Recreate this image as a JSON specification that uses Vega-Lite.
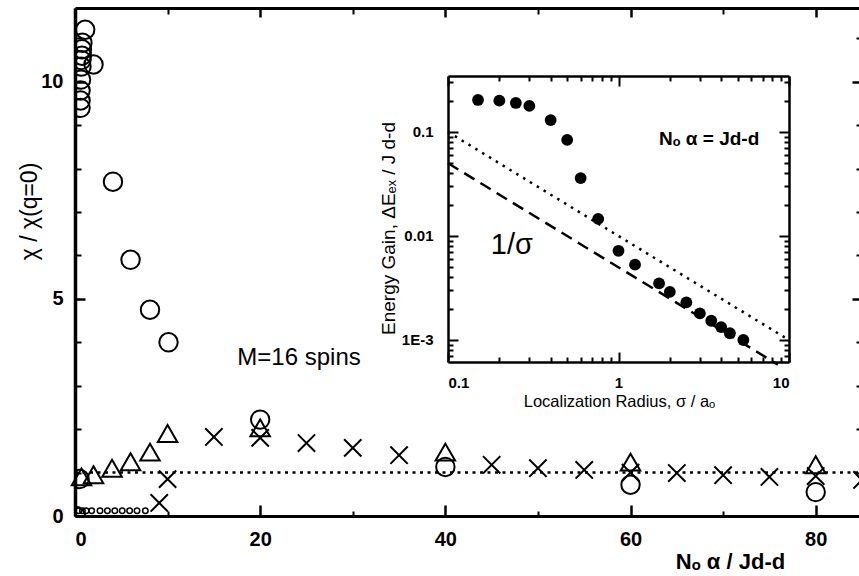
{
  "$schema": "https://vega.github.io/schema/vega-lite/v6.json",
  "width": 787,
  "height": 508,
  "autosize": {"type": "none"},
  "padding": {"left": 75, "top": 8, "right": 0, "bottom": 60},
  "background": "white",
  "config": {
    "view": {"stroke": null},
    "axis": {"domainColor": "black", "tickColor": "black", "labelColor": "black", "titleColor": "black", "labelFont": "Liberation Sans", "titleFont": "Liberation Sans", "grid": false},
    "text": {"font": "Liberation Sans", "color": "black"}
  },
  "datasets": {
    "circles": [
      {"x": 0.1, "y": 0.0}, {"x": 0.5, "y": 0.85},
      {"x": 0.6, "y": 9.4}, {"x": 0.6, "y": 9.57}, {"x": 0.6, "y": 9.8}, {"x": 0.65, "y": 10.05},
      {"x": 0.7, "y": 10.35}, {"x": 0.7, "y": 10.5}, {"x": 0.75, "y": 10.6}, {"x": 0.75, "y": 10.75},
      {"x": 0.8, "y": 10.9}, {"x": 1.1, "y": 11.2}, {"x": 2.0, "y": 10.4}, {"x": 4.1, "y": 7.7},
      {"x": 6.0, "y": 5.9}, {"x": 8.1, "y": 4.75}, {"x": 10.1, "y": 4.0}, {"x": 20, "y": 2.22},
      {"x": 40, "y": 1.13}, {"x": 60, "y": 0.72}, {"x": 80, "y": 0.55}
    ],
    "small": [
      {"x": 0.4, "y": 0.12}, {"x": 0.8, "y": 0.12}, {"x": 1.2, "y": 0.12}, {"x": 1.8, "y": 0.12},
      {"x": 2.7, "y": 0.12}, {"x": 3.5, "y": 0.12}, {"x": 4.3, "y": 0.12}, {"x": 5.1, "y": 0.12},
      {"x": 5.9, "y": 0.12}, {"x": 6.7, "y": 0.12}, {"x": 7.6, "y": 0.12}
    ],
    "triangles": [
      {"x": 0.7, "y": 0.9}, {"x": 2.0, "y": 0.95}, {"x": 4.0, "y": 1.1}, {"x": 6.0, "y": 1.25},
      {"x": 8.1, "y": 1.47}, {"x": 10.0, "y": 1.9}, {"x": 20, "y": 2.03}, {"x": 40, "y": 1.47},
      {"x": 60, "y": 1.24}, {"x": 80, "y": 1.18}
    ],
    "crosses": [
      {"x": 9.1, "y": 0.3}, {"x": 10.0, "y": 0.85}, {"x": 15, "y": 1.82}, {"x": 20, "y": 1.8},
      {"x": 25, "y": 1.68}, {"x": 30, "y": 1.57}, {"x": 35, "y": 1.4}, {"x": 45, "y": 1.18},
      {"x": 50, "y": 1.1}, {"x": 55, "y": 1.06}, {"x": 60, "y": 1.0}, {"x": 65, "y": 0.99},
      {"x": 70, "y": 0.94}, {"x": 75, "y": 0.9}, {"x": 80, "y": 0.92}, {"x": 85, "y": 0.83}
    ],
    "unity": [{"x": 0, "y": 1.0}, {"x": 85, "y": 1.0}],
    "mainLabel": [{"x": 24.2, "y": 3.64, "label": "M=16 spins"}],
    "gain": [
      {"s": 0.15, "e": 0.203}, {"s": 0.2, "e": 0.2}, {"s": 0.25, "e": 0.19}, {"s": 0.3, "e": 0.178},
      {"s": 0.4, "e": 0.13}, {"s": 0.5, "e": 0.084}, {"s": 0.6, "e": 0.036}, {"s": 0.76, "e": 0.0146},
      {"s": 1.0, "e": 0.0072}, {"s": 1.25, "e": 0.0053}, {"s": 1.73, "e": 0.0035}, {"s": 2.0, "e": 0.0029},
      {"s": 2.5, "e": 0.0023}, {"s": 3.0, "e": 0.0018}, {"s": 3.5, "e": 0.00153}, {"s": 4.0, "e": 0.00133},
      {"s": 4.5, "e": 0.00116}, {"s": 5.4, "e": 0.001}
    ],
    "dotted": [{"s": 0.1, "e": 0.1}, {"s": 9.7, "e": 0.00103}],
    "dashed": [{"s": 0.1, "e": 0.05}, {"s": 8.6, "e": 0.00058}],
    "insetLabels": [
      {"s": 3.4, "e": 0.0857, "label": "Nₒ α = Jd-d", "kind": "a"},
      {"s": 0.237, "e": 0.00818, "label": "1/σ", "kind": "b"}
    ]
  },
  "layer": [
    {
      "encoding": {
        "x": {"field": "x", "type": "quantitative", "scale": {"domain": [0, 85], "nice": false, "zero": false},
          "axis": {"orient": "bottom", "values": [0, 20, 40, 60, 80], "format": "d", "tickSize": -11, "tickWidth": 2.5, "domainWidth": 3,
            "labelFontSize": 20, "labelFontWeight": "bold", "labelPadding": 24,
            "title": "Nₒ α / Jd-d", "titleFontSize": 22, "titleFontWeight": "bold", "titleX": 655, "titleY": 45, "titleAlign": "center", "titleBaseline": "middle"}},
        "y": {"field": "y", "type": "quantitative", "scale": {"domain": [0, 11.7], "nice": false, "zero": false},
          "axis": {"orient": "left", "values": [0, 5, 10], "format": "d", "tickSize": -10, "tickWidth": 2.5, "domainWidth": 3.5,
            "labelFontSize": 20, "labelFontWeight": "bold", "labelPadding": 22,
            "title": "χ / χ(q=0)", "titleFontSize": 23, "titleFontWeight": "normal", "titleX": -46, "titleY": 203, "titleAngle": 270, "titleAlign": "center", "titleBaseline": "middle"}}
      },
      "layer": [
        {"data": {"name": "unity"}, "mark": {"type": "line", "color": "black", "strokeWidth": 2.5, "strokeDash": [3, 4.5]}},
        {"data": {"name": "small"}, "mark": {"type": "point", "shape": "circle", "filled": false, "color": "black", "strokeWidth": 1.5, "size": 30, "opacity": 1}},
        {"data": {"name": "crosses"}, "mark": {"type": "point", "shape": "M-1,-1L1,1M-1,1L1,-1", "filled": false, "color": "black", "strokeWidth": 2, "size": 300, "opacity": 1}},
        {"data": {"name": "triangles"}, "mark": {"type": "point", "shape": "triangle-up", "filled": false, "color": "black", "strokeWidth": 2, "size": 380, "opacity": 1}},
        {"data": {"name": "circles"}, "mark": {"type": "point", "shape": "circle", "filled": false, "color": "black", "strokeWidth": 2, "size": 340, "opacity": 1, "clip": true}},
        {"data": {"name": "mainLabel"}, "mark": {"type": "text", "fontSize": 24, "align": "center", "baseline": "middle"}, "encoding": {"text": {"field": "label"}}}
      ]
    },
    {
      "data": {"name": "unity"},
      "mark": {"type": "point", "opacity": 0},
      "encoding": {
        "x": {"field": "x", "type": "quantitative", "scale": {"domain": [0, 85], "nice": false, "zero": false},
          "axis": {"orient": "top", "values": [0, 20, 40, 60, 80], "tickSize": -9, "tickWidth": 2.5, "domainWidth": 3, "labels": false, "title": null}},
        "y": {"field": "y", "type": "quantitative", "scale": {"domain": [0, 11.7], "nice": false, "zero": false},
          "axis": {"orient": "right", "values": [0, 5, 10], "tickSize": -10, "tickWidth": 2.5, "domainWidth": 3, "labels": false, "title": null}}
      }
    },
    {
      "data": {"name": "unity"},
      "mark": {"type": "point", "opacity": 0},
      "encoding": {
        "x": {"field": "x", "type": "quantitative", "scale": {"domain": [0, 85], "nice": false, "zero": false},
          "axis": {"orient": "bottom", "values": [10, 30, 50, 70], "tickSize": -5, "tickWidth": 2, "domain": false, "labels": false, "title": null}},
        "y": {"field": "y", "type": "quantitative", "scale": {"domain": [0, 11.7], "nice": false, "zero": false},
          "axis": {"orient": "left", "values": [1, 2, 3, 4, 6, 7, 8, 9, 11], "tickSize": -6, "tickWidth": 2, "domain": false, "labels": false, "title": null}}
      }
    },
    {
      "data": {"name": "unity"},
      "mark": {"type": "point", "opacity": 0},
      "encoding": {
        "x": {"field": "x", "type": "quantitative", "scale": {"domain": [0, 85], "nice": false, "zero": false},
          "axis": {"orient": "top", "values": [10, 30, 50, 70], "tickSize": -6, "tickWidth": 2, "domain": false, "labels": false, "title": null}},
        "y": {"field": "y", "type": "quantitative", "scale": {"domain": [0, 11.7], "nice": false, "zero": false},
          "axis": {"orient": "right", "values": [1, 2, 3, 4, 6, 7, 8, 9, 11], "tickSize": -6, "tickWidth": 2, "domain": false, "labels": false, "title": null}}
      }
    },
    {
      "encoding": {
        "x": {"field": "s", "type": "quantitative", "scale": {"type": "log", "domain": [0.1, 10], "range": [373, 714], "nice": false},
          "axis": {"orient": "bottom", "offset": -154, "values": [0.1, 1, 10], "labelExpr": "datum.value < 0.5 ? '0.1' : datum.value < 5 ? '1' : '10'",
            "tickSize": -10, "tickWidth": 2, "domainWidth": 2.5, "labelFontSize": 15, "labelFontWeight": "bold", "labelPadding": 23,
            "title": "Localization Radius, σ / aₒ", "titleFontSize": 16.5, "titleFontWeight": "normal", "titleX": 544, "titleY": 39, "titleAlign": "center", "titleBaseline": "middle"}},
        "y": {"field": "e", "type": "quantitative", "scale": {"type": "log", "domain": [0.000614, 0.345], "range": [354, 68], "nice": false},
          "axis": {"orient": "left", "offset": -373, "values": [0.1, 0.01, 0.001], "labelExpr": "datum.value > 0.05 ? '0.1' : datum.value > 0.005 ? '0.01' : '1E-3'",
            "tickSize": -10, "tickWidth": 2, "domainWidth": 2.5, "labelFontSize": 15, "labelFontWeight": "bold", "labelPadding": 25,
            "title": "Energy Gain,      ΔEₑₓ / J d-d", "titleFontSize": 19, "titleFontWeight": "normal", "titleX": -60, "titleY": 220, "titleAngle": 270, "titleAlign": "center", "titleBaseline": "middle"}}
      },
      "layer": [
        {"data": {"name": "dotted"}, "mark": {"type": "line", "color": "black", "strokeWidth": 2.5, "strokeDash": [2.5, 5.5], "clip": true}},
        {"data": {"name": "dashed"}, "mark": {"type": "line", "color": "black", "strokeWidth": 2.5, "strokeDash": [12, 7], "clip": true}},
        {"data": {"name": "gain"}, "mark": {"type": "point", "shape": "circle", "filled": true, "color": "black", "size": 140, "opacity": 1}},
        {"data": {"name": "insetLabels"}, "transform": [{"filter": "datum.kind == 'a'"}], "mark": {"type": "text", "fontSize": 19, "fontWeight": "bold", "align": "center", "baseline": "middle"}, "encoding": {"text": {"field": "label"}}},
        {"data": {"name": "insetLabels"}, "transform": [{"filter": "datum.kind == 'b'"}], "mark": {"type": "text", "fontSize": 29, "align": "center", "baseline": "middle"}, "encoding": {"text": {"field": "label"}}}
      ]
    },
    {
      "data": {"name": "dotted"},
      "mark": {"type": "point", "opacity": 0},
      "encoding": {
        "x": {"field": "s", "type": "quantitative", "scale": {"type": "log", "domain": [0.1, 10], "range": [373, 714], "nice": false},
          "axis": {"orient": "top", "offset": -68, "values": [0.1, 1, 10], "tickSize": -10, "tickWidth": 2, "domainWidth": 2.5, "labels": false, "title": null}},
        "y": {"field": "e", "type": "quantitative", "scale": {"type": "log", "domain": [0.000614, 0.345], "range": [354, 68], "nice": false},
          "axis": {"orient": "right", "offset": -73, "values": [0.1, 0.01, 0.001], "tickSize": -10, "tickWidth": 2, "domainWidth": 2.5, "labels": false, "title": null}}
      }
    },
    {
      "data": {"name": "dotted"},
      "mark": {"type": "point", "opacity": 0},
      "encoding": {
        "x": {"field": "s", "type": "quantitative", "scale": {"type": "log", "domain": [0.1, 10], "range": [373, 714], "nice": false},
          "axis": {"orient": "bottom", "offset": -154, "values": [0.2, 0.3, 0.4, 0.5, 0.6, 0.7, 0.8, 0.9, 2, 3, 4, 5, 6, 7, 8, 9], "tickSize": -5, "tickWidth": 2, "domain": false, "labels": false, "title": null}},
        "y": {"field": "e", "type": "quantitative", "scale": {"type": "log", "domain": [0.000614, 0.345], "range": [354, 68], "nice": false},
          "axis": {"orient": "left", "offset": -373, "values": [0.0007, 0.0008, 0.0009, 0.002, 0.003, 0.004, 0.005, 0.006, 0.007, 0.008, 0.009, 0.02, 0.03, 0.04, 0.05, 0.06, 0.07, 0.08, 0.09, 0.2, 0.3], "tickSize": -5, "tickWidth": 2, "domain": false, "labels": false, "title": null}}
      }
    },
    {
      "data": {"name": "dotted"},
      "mark": {"type": "point", "opacity": 0},
      "encoding": {
        "x": {"field": "s", "type": "quantitative", "scale": {"type": "log", "domain": [0.1, 10], "range": [373, 714], "nice": false},
          "axis": {"orient": "top", "offset": -68, "values": [0.2, 0.3, 0.4, 0.5, 0.6, 0.7, 0.8, 0.9, 2, 3, 4, 5, 6, 7, 8, 9], "tickSize": -5, "tickWidth": 2, "domain": false, "labels": false, "title": null}},
        "y": {"field": "e", "type": "quantitative", "scale": {"type": "log", "domain": [0.000614, 0.345], "range": [354, 68], "nice": false},
          "axis": {"orient": "right", "offset": -73, "values": [0.0007, 0.0008, 0.0009, 0.002, 0.003, 0.004, 0.005, 0.006, 0.007, 0.008, 0.009, 0.02, 0.03, 0.04, 0.05, 0.06, 0.07, 0.08, 0.09, 0.2, 0.3], "tickSize": -5, "tickWidth": 2, "domain": false, "labels": false, "title": null}}
      }
    }
  ],
  "resolve": {"scale": {"x": "independent", "y": "independent"}, "axis": {"x": "independent", "y": "independent"}}
}
